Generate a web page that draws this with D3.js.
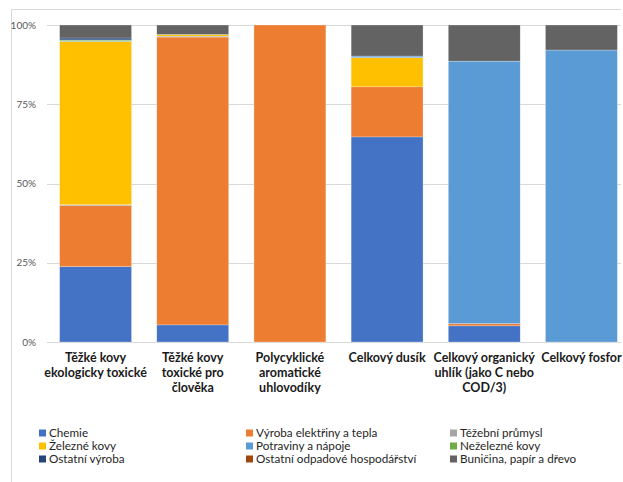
<!DOCTYPE html>
<html>
<head>
<meta charset="utf-8">
<script src="https://cdn.jsdelivr.net/npm/d3@7"></script>
<style>
  body { margin: 0; background: #fff; }
  svg { display: block; font-family: Lato, "Open Sans", sans-serif; }
</style>
</head>
<body>
<svg width="623" height="482"></svg>
<script>
// categories (each label split in lines as shown)
const categories = [
  ["Těžké kovy", "ekologicky toxické"],
  ["Těžké kovy", "toxické pro", "člověka"],
  ["Polycyklické", "aromatické", "uhlovodíky"],
  ["Celkový dusík"],
  ["Celkový organický", "uhlík (jako C nebo", "COD/3)"],
  ["Celkový fosfor"]
]

const seriesNames = [
  "Chemie", "Výroba elektřiny a tepla", "Těžební průmysl",
  "Železné kovy", "Potraviny a nápoje", "Neželezné kovy",
  "Ostatní výroba", "Ostatní odpadové hospodářství", "Buničina, papír a dřevo"
]
const seriesColors = ["#4472C4", "#ED7D31", "#A5A5A5", "#FFC000", "#5B9BD5", "#70AD47", "#264478", "#9E480E", "#636363"]

// shares in % per category, one array per series
const chemie      = [23.8, 5.4, 0, 64.7, 5.1, 0]
const vyroba      = [19.2, 90.8, 100, 15.8, 0.7, 0]
const tezebni     = [0.3, 0.3, 0, 0, 0, 0]
const zelezne     = [51.5, 0.5, 0, 9.2, 0, 0]
const potraviny   = [0.2, 0, 0, 0.5, 82.8, 92.1]
const nezelezne   = [0.3, 0, 0, 0, 0, 0]
const ostVyroba   = [0.6, 0, 0, 0, 0, 0]
const ostOdpad    = [0, 0, 0, 0, 0, 0]
const bunicina    = [4.1, 3.0, 0, 9.8, 11.4, 7.9]

const yTicks = [0, 25, 50, 75, 100]

const seriesValues = [chemie, vyroba, tezebni, zelezne, potraviny, nezelezne, ostVyroba, ostOdpad, bunicina]

const rows = categories.map((c, i) => {
  const r = { idx: i }
  seriesNames.forEach((s, j) => r[s] = seriesValues[j][i])
  return r
})

const stack = d3.stack().keys(seriesNames)(rows)

const svg = d3.select("svg")

// chart border (clipped at right / bottom like the original)
svg.append("path")
  .attr("d", "M11.5,490 V9.5 H621")
  .attr("fill", "none")
  .attr("stroke", "#d9d9d9")

const x = d3.scaleBand()
  .domain(d3.range(categories.length))
  .range([47, 630])
  .paddingInner(0.26)
  .paddingOuter(0.13)

const y = d3.scaleLinear().domain([0, 100]).range([342, 25])

// gridlines
svg.append("g")
  .selectAll("line")
  .data(yTicks)
  .enter()
  .append("line")
  .attr("x1", 47).attr("x2", 621)
  .attr("y1", d => Math.round(y(d)) + 0.5)
  .attr("y2", d => Math.round(y(d)) + 0.5)
  .attr("stroke", "#d9d9d9")

// y labels
svg.append("g")
  .selectAll("text")
  .data(yTicks)
  .enter()
  .append("text")
  .attr("x", 36)
  .attr("y", d => y(d) + 3.5)
  .attr("text-anchor", "end")
  .attr("font-size", 10)
  .attr("fill", "#595959")
  .text(d => d + "%")

// bars
const layer = svg.append("g")
  .selectAll("g")
  .data(stack)
  .enter()
  .append("g")
  .attr("fill", (d, i) => seriesColors[i])

layer.selectAll("rect")
  .data(d => d.filter(p => p[1] - p[0] > 0))
  .enter()
  .append("rect")
  .attr("x", d => x(d.data.idx))
  .attr("width", x.bandwidth())
  .attr("y", d => y(d[1]))
  .attr("height", d => y(d[0]) - y(d[1]))
  .attr("stroke", "#fff")
  .attr("stroke-opacity", 0.5)
  .attr("stroke-width", 0.5)

// category labels
const cat = svg.append("g")
  .selectAll("text")
  .data(categories)
  .enter()
  .append("text")
  .attr("text-anchor", "middle")
  .attr("font-size", 12.5)
  .attr("font-weight", "bold")
  .attr("fill", "#1a1a1a")

cat.selectAll("tspan")
  .data((d, i) => d.map(line => ({ line, i })))
  .enter()
  .append("tspan")
  .attr("x", d => x(d.i) + x.bandwidth() / 2)
  .attr("y", (d, k) => 361.5 + k * 15)
  .text(d => d.line)

// legend, 3 columns
const legX = [39, 246, 450]
const legY = [433, 446, 459]
const leg = svg.append("g")
  .selectAll("g")
  .data(seriesNames)
  .enter()
  .append("g")
  .attr("transform", (d, i) => `translate(${legX[i % 3]},${legY[Math.floor(i / 3)]})`)

leg.append("rect")
  .attr("x", 0).attr("y", -3.5)
  .attr("width", 7).attr("height", 7)
  .attr("fill", (d, i) => seriesColors[i])

leg.append("text")
  .attr("x", 10)
  .attr("y", 4)
  .attr("font-size", 11.7)
  .attr("fill", "#262626")
  .text(d => d)
</script>
</body>
</html>
